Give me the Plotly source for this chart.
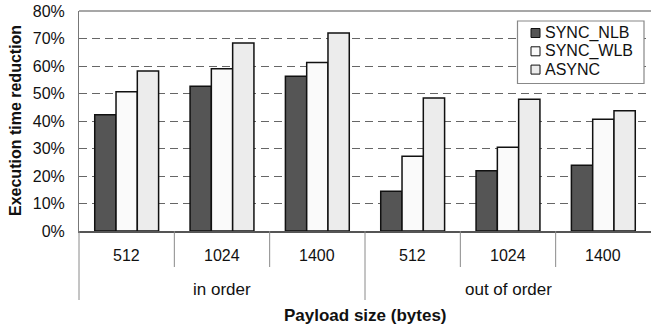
import plotly.graph_objects as go

# Payload sizes within each delivery mode
groups = ["in order", "out of order"]
sizes = ["512", "1024", "1400"]

# Execution time reduction (fraction) per configuration
sync_nlb = [0.423, 0.526, 0.563, 0.145, 0.219, 0.239]
sync_wlb = [0.506, 0.590, 0.613, 0.272, 0.305, 0.406]
async_vals = [0.582, 0.684, 0.720, 0.484, 0.479, 0.437]

series_names = ["SYNC_NLB", "SYNC_WLB", "ASYNC"]
series_colors = ["#555555", "#fafafa", "#ececec"]

y_ticks = [0, 0.1, 0.2, 0.3, 0.4, 0.5, 0.6, 0.7, 0.8]

cats = [f"{g}|{s}" for g in groups for s in sizes]

FONT = "Liberation Sans, Arial, Helvetica, sans-serif"
TXT = "#111111"

W, H = 651, 328
ML, MR, MT, MB = 79, 0, 11, 97
PW, PH = W - ML - MR, H - MT - MB


def px_x(px):
    """Pixel column -> paper x."""
    return (px - ML) / PW


def px_y(py):
    """Pixel row -> paper y."""
    return (H - MB - py) / PH


fig = go.Figure()
for name, vals, col in zip(series_names, [sync_nlb, sync_wlb, async_vals], series_colors):
    fig.add_trace(go.Bar(
        name=name, x=cats, y=vals, showlegend=False,
        marker=dict(color=col, line=dict(color="#111111", width=1.5)),
    ))

annotations = []
# payload size labels under each category
for c in cats:
    annotations.append(dict(
        x=c, xref="x", y=0, yref="paper", yshift=-24, yanchor="middle",
        text=c.split("|")[1], showarrow=False,
        font=dict(family=FONT, size=16, color=TXT),
    ))
# delivery mode labels centred under their groups
for g in groups:
    annotations.append(dict(
        x=f"{g}|{sizes[1]}", xref="x", y=0, yref="paper", yshift=-58, yanchor="middle",
        text=g, showarrow=False,
        font=dict(family=FONT, size=17, color=TXT),
    ))
annotations.append(dict(
    x=0.5, xref="paper", y=0, yref="paper", yshift=-84, yanchor="middle",
    text="<b>Payload size (bytes)</b>", showarrow=False,
    font=dict(family=FONT, size=17, color=TXT),
))
annotations.append(dict(
    x=0, xref="paper", xshift=-64, xanchor="center",
    y=0.5, yref="paper", yanchor="middle", textangle=-90,
    text="<b>Execution time reduction</b>", showarrow=False,
    font=dict(family=FONT, size=16, color=TXT),
))

shapes = []
n = len(cats)
# short separators between payload sizes
for i in range(n - 1):
    if (i + 1) % len(sizes) == 0:
        continue
    shapes.append(dict(type="line", xref="x", yref="paper",
                       x0=i + 0.5, x1=i + 0.5, y0=0, y1=-36 / PH,
                       line=dict(color="#8a8a8a", width=1)))
# long separators between delivery modes
shapes.append(dict(type="line", xref="paper", yref="paper",
                   x0=0, x1=0, y0=0, y1=-69 / PH,
                   line=dict(color="#8a8a8a", width=1)))
shapes.append(dict(type="line", xref="x", yref="paper",
                   x0=len(sizes) - 0.5, x1=len(sizes) - 0.5, y0=0, y1=-69 / PH,
                   line=dict(color="#8a8a8a", width=1)))
# top frame line
shapes.append(dict(type="line", xref="paper", yref="paper",
                   x0=0, x1=1, y0=1, y1=1,
                   line=dict(color="#8a8a8a", width=1.5)))

# boxed legend: compact rows with small swatches
LEG_L, LEG_R, LEG_T, LEG_B = 517.5, 644, 21, 83.5
ROW0, ROW_STEP, SW = 33, 18.3, 9
SW_L, TXT_L = 531, 543
shapes.append(dict(type="rect", xref="paper", yref="paper",
                   x0=px_x(LEG_L), x1=px_x(LEG_R), y0=px_y(LEG_B), y1=px_y(LEG_T),
                   fillcolor="white", line=dict(color="#888888", width=1.2), layer="above"))
for k, (name, col) in enumerate(zip(series_names, series_colors)):
    cy = ROW0 + k * ROW_STEP
    shapes.append(dict(type="rect", xref="paper", yref="paper",
                       x0=px_x(SW_L), x1=px_x(SW_L + SW),
                       y0=px_y(cy + SW / 2), y1=px_y(cy - SW / 2),
                       fillcolor=col, line=dict(color="#111111", width=1), layer="above"))
    annotations.append(dict(
        x=px_x(TXT_L), xref="paper", xanchor="left",
        y=px_y(cy), yref="paper", yanchor="middle",
        text=name, showarrow=False,
        font=dict(family=FONT, size=16, color=TXT),
    ))

fig.update_layout(
    width=W, height=H,
    margin=dict(l=ML, r=MR, t=MT, b=MB),
    paper_bgcolor="white", plot_bgcolor="white",
    barmode="group", bargap=0.33, bargroupgap=0,
    font=dict(family=FONT, size=16, color=TXT),
    showlegend=False,
    annotations=annotations,
    shapes=shapes,
)
fig.update_xaxes(
    type="category", categoryorder="array", categoryarray=cats,
    range=[-0.5, n - 0.5], showticklabels=False, ticks="",
    showgrid=False, zeroline=False,
    showline=True, linecolor="#555555", linewidth=2,
)
fig.update_yaxes(
    range=[0, 0.8], tickvals=y_ticks, tickformat=".0%",
    ticks="", ticklabelstandoff=10,
    showgrid=True, gridcolor="#666666", gridwidth=1, griddash="8px,5px",
    zeroline=False,
    showline=True, linecolor="#777777", linewidth=1,
    tickfont=dict(family=FONT, size=16, color=TXT),
)

fig.write_html("out.html")
